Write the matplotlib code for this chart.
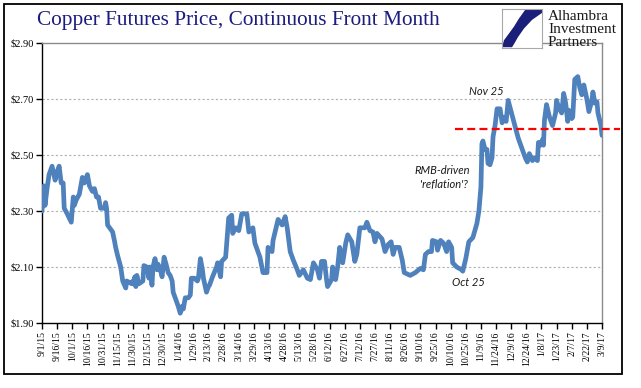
import matplotlib
matplotlib.use("Agg")
import matplotlib.pyplot as plt
from matplotlib.patches import Rectangle, Polygon
import numpy as np

# ---------------- data ----------------
day_offsets = [0, 2, 3, 5, 7, 10, 13, 15, 17, 19,
               21, 22, 25, 29, 31, 32, 34, 37, 40, 42,
               45, 47, 50, 52, 54, 56, 58, 62, 63, 64,
               65, 70, 72, 73, 75, 78, 80, 83, 84, 89,
               90, 91, 92, 93, 94, 96, 100, 101, 104, 106,
               107, 109, 110, 112, 114, 115, 118, 119, 121, 123,
               125, 127, 129, 130, 132, 134, 135, 137, 139, 140,
               142, 145, 147, 148, 151, 154, 155, 157, 159, 160,
               163, 165, 166, 169, 173, 174,
               177, 178, 182, 185, 188, 189, 192, 195, 198, 203,
               205, 209, 211, 216, 219, 223, 224, 228, 229, 234,
               238, 241, 243, 246, 249, 253, 255, 259, 263, 266,
               269, 273, 275, 277, 280, 282, 283, 287, 288, 291,
               293, 295, 298, 301, 303, 307, 310, 312, 315, 320,
               322, 325, 328, 330, 332, 337, 340, 343, 346, 348,
               350, 354, 357, 359, 365, 370, 375, 378, 380, 383,
               386, 387, 391, 392, 395, 398, 401, 403,
               406, 407, 411, 416, 417, 420, 423, 427, 429, 431,
               433, 435, 436, 437, 439, 441, 442, 444, 446, 447,
               449, 451, 454, 456, 458, 460, 462, 466, 469, 472,
               476, 479, 481, 483, 486, 488, 491, 492, 494, 496,
               497, 498, 500, 503, 506, 509, 510, 512, 515, 517,
               519, 521, 522, 525, 526, 528, 531, 533, 535, 537,
               540, 542, 545, 546, 548, 550, 551, 554, 555]

prices = [2.30, 2.39, 2.32, 2.38, 2.43, 2.46, 2.41, 2.44, 2.46, 2.40,
          2.40, 2.31, 2.29, 2.26, 2.35, 2.32, 2.34, 2.36, 2.42, 2.40,
          2.43, 2.39, 2.37, 2.38, 2.35, 2.35, 2.31, 2.31, 2.33, 2.31,
          2.25, 2.225, 2.19, 2.17, 2.14, 2.10, 2.05, 2.025, 2.05, 2.04,
          2.05, 2.04, 2.065, 2.03, 2.07, 2.04, 2.05, 2.105, 2.10, 2.06,
          2.10, 2.035, 2.10, 2.13, 2.09, 2.11, 2.08, 2.065, 2.135, 2.11,
          2.08, 2.07, 2.05, 2.01, 1.99, 1.97, 1.96, 1.935, 1.96, 1.95,
          1.99, 1.99, 2.00, 2.06, 2.06, 2.05, 2.06, 2.13, 2.09, 2.06,
          2.01, 2.03, 2.035, 2.065, 2.10, 2.115,
          2.065, 2.12, 2.135, 2.275, 2.285, 2.22, 2.24, 2.23, 2.29, 2.29,
          2.225, 2.24, 2.185, 2.135, 2.08, 2.08, 2.17, 2.155, 2.195, 2.27,
          2.25, 2.28, 2.24, 2.155, 2.125, 2.09, 2.07, 2.09, 2.06, 2.055,
          2.115, 2.09, 2.06, 2.12, 2.12, 2.055, 2.03, 2.055, 2.10, 2.055,
          2.10, 2.17, 2.115, 2.185, 2.215, 2.19, 2.12, 2.145, 2.24, 2.24,
          2.26, 2.23, 2.225, 2.19, 2.22, 2.20, 2.155, 2.18, 2.19, 2.145,
          2.17, 2.17, 2.125, 2.08, 2.07, 2.08, 2.095, 2.09, 2.145, 2.155,
          2.155, 2.195, 2.19, 2.16, 2.195, 2.185, 2.155, 2.19,
          2.17, 2.115, 2.10, 2.09, 2.085, 2.13, 2.19, 2.205, 2.23, 2.255,
          2.30, 2.385, 2.54, 2.55, 2.52, 2.52, 2.47, 2.465, 2.49, 2.565,
          2.605, 2.665, 2.665, 2.615, 2.635, 2.62, 2.695, 2.64, 2.60, 2.56,
          2.52, 2.49, 2.475, 2.505, 2.48, 2.49, 2.48, 2.545, 2.535, 2.555,
          2.535, 2.625, 2.68, 2.635, 2.605, 2.65, 2.695, 2.67, 2.65, 2.72,
          2.685, 2.62, 2.66, 2.63, 2.635, 2.77, 2.78, 2.74, 2.715, 2.75,
          2.70, 2.655, 2.695, 2.725, 2.685, 2.69, 2.65, 2.605, 2.57]

x_tick_labels = ["9/1/15", "9/16/15", "10/1/15", "10/16/15", "10/31/15", "11/15/15",
                 "11/30/15", "12/15/15", "12/30/15", "1/14/16", "1/29/16", "2/13/16",
                 "2/28/16", "3/14/16", "3/29/16", "4/13/16", "4/28/16", "5/13/16",
                 "5/28/16", "6/12/16", "6/27/16", "7/12/16", "7/27/16", "8/11/16",
                 "8/26/16", "9/10/16", "9/25/16", "10/10/16", "10/25/16", "11/9/16",
                 "11/24/16", "12/9/16", "12/24/16", "1/8/17", "1/23/17", "2/7/17",
                 "2/22/17", "3/9/17"]
tick_step_days = 15

y_ticks = [1.90, 2.10, 2.30, 2.50, 2.70, 2.90]
y_tick_labels = ["\\$1.90", "\\$2.10", "\\$2.30", "\\$2.50", "\\$2.70", "\\$2.90"]
grid_levels = [2.10, 2.30, 2.50, 2.70]

reference_level = 2.593

title = "Copper Futures Price, Continuous Front Month"
notes = [("Nov 25", 440, 2.727),
         ("RMB-driven", 397, 2.443),
         ("'reflation'?", 398, 2.396),
         ("Oct 25", 423, 2.043)]

# ---------------- figure ----------------
W, H = 641, 388
fig = plt.figure(figsize=(W / 100, H / 100), dpi=100)
fig.patch.set_facecolor("white")

def fx(px):
    return px / W

def fy(py):
    return 1 - py / H

ax = fig.add_axes([fx(42), fy(323), fx(602) - fx(42), fy(43) - fy(323)])
ax.set_facecolor("white")

ax.plot(day_offsets, prices, color="#4f81bd", lw=3.4,
        solid_joinstyle="round", solid_capstyle="round", zorder=3)

ax.set_xlim(0, tick_step_days * (len(x_tick_labels) - 1))
ax.set_ylim(1.90, 2.90)

for g in grid_levels:
    ax.axhline(g, color="#b0b0b0", lw=0.8, ls=(0, (2, 2)), zorder=1)

ax.set_yticks(y_ticks)
ax.set_yticklabels(y_tick_labels, fontfamily="Liberation Serif", fontsize=7.5)
ax.set_xticks([tick_step_days * i for i in range(len(x_tick_labels))])
ax.set_xticklabels(x_tick_labels, rotation=90, fontfamily="Liberation Serif", fontsize=7)
ax.tick_params(axis="both", direction="out", length=4, width=1, color="black",
               labelcolor="black", pad=2)

for s in ["left", "bottom"]:
    ax.spines[s].set_color("black")
    ax.spines[s].set_linewidth(1.0)
for s in ["top", "right"]:
    ax.spines[s].set_color("#8a8a8a")
    ax.spines[s].set_linewidth(1.0)

# red dashed reference line (extends past right edge)
ax.axhline(reference_level, xmin=(455 - 42) / 560, xmax=(620 - 42) / 560,
           color="#ff0000", lw=1.6, ls=(0, (3.6, 1.9)), clip_on=False, zorder=4)

for txt, xd, yd in notes:
    ax.text(xd, yd, txt, fontfamily="Lato", fontstyle="italic", fontsize=8,
            color="#1a1a1a", ha="center", va="center", zorder=5)

# title
fig.text(fx(37), fy(20), title, fontfamily="Liberation Serif", fontsize=15.3,
         color="#1c1c80", ha="left", va="center")

# logo
lax = fig.add_axes([fx(502), fy(48), fx(542) - fx(502), fy(9) - fy(48)])
lax.set_xlim(0, 1)
lax.set_ylim(0, 1)
lax.set_xticks([])
lax.set_yticks([])
for s in lax.spines.values():
    s.set_color("#a8a8a8")
    s.set_linewidth(0.8)
shape = [(0.58, 0.98), (1.0, 0.98), (1.0, 0.9), (0.75, 0.72), (0.55, 0.5),
         (0.4, 0.28), (0.3, 0.1), (0.25, 0.02), (0.0, 0.02), (0.05, 0.2),
         (0.18, 0.38), (0.3, 0.55), (0.42, 0.75)]
lax.add_patch(Polygon(shape, closed=True, fc="#1b1f7a", ec="none"))

for i, word in enumerate(["Alhambra", "Investment", "Partners"]):
    fig.text(fx(548), fy(16 + 13.5 * i), word, fontfamily="Liberation Serif",
             fontsize=11, color="#1a1a1a", ha="left", va="center")

# outer frame
fig.patches.append(Rectangle((fx(4), fy(374)), fx(622) - fx(4), fy(4) - fy(374),
                             transform=fig.transFigure, fill=False,
                             ec="black", lw=1.3))

fig.savefig("out.png", dpi=100)
